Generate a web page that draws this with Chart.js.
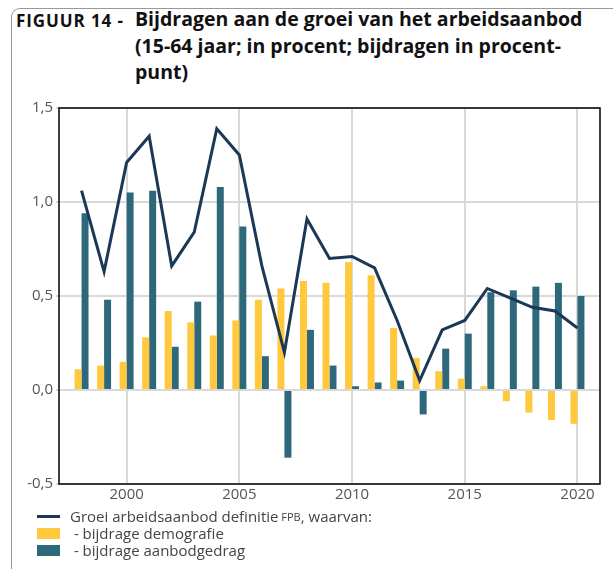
<!DOCTYPE html>
<html>
<head>
<meta charset="utf-8">
<script src="https://cdn.jsdelivr.net/npm/chart.js@4.4.1/dist/chart.umd.min.js"></script>
<style>
  html, body { margin: 0; padding: 0; background: #fff; }
  body { width: 613px; height: 569px; position: relative; overflow: hidden; font-family: "Open Sans", "Noto Sans", sans-serif; }
  #frame { position: absolute; left: 11px; top: 8px; width: 620px; height: 580px; border-top: 1px solid #999; border-left: 1px solid #999; border-top-left-radius: 9px; }
  #fig { position: absolute; left: 16px; top: 9px; font-size: 17px; font-weight: bold; color: #111; letter-spacing: 0.9px; }
  #title { position: absolute; left: 135px; top: 6px; width: 470px; font-size: 19.5px; font-weight: bold; line-height: 26.5px; color: #111; }
  #chartBox { position: absolute; left: 0; top: 96px; width: 613px; height: 414px; }
  #legend { position: absolute; left: 37px; top: 508px; font-size: 15px; color: #444; line-height: 17px; }
  .item { display: flex; align-items: center; height: 17px; }
  .swLine { width: 23px; height: 3px; background: #1c3857; margin-right: 10px; }
  .swBox { width: 23px; height: 11px; margin-right: 10px; }
  .small { font-size: 11px; }
</style>
</head>
<body>
<div id="frame"></div>
<div id="fig">FIGUUR 14 -</div>
<div id="title">Bijdragen aan de groei van het arbeidsaanbod<br>(15-64 jaar; in procent; bijdragen in procent-<br>punt)</div>
<div id="chartBox"><canvas id="chart" width="613" height="414"></canvas></div>
<div id="legend">
  <div class="item"><span class="swLine"></span>Groei arbeidsaanbod definitie <span class="small">&nbsp;FPB</span>, waarvan:</div>
  <div class="item"><span class="swBox" style="background:#ffc83d"></span>&nbsp;- bijdrage demografie</div>
  <div class="item"><span class="swBox" style="background:#2e687b"></span>&nbsp;- bijdrage aanbodgedrag</div>
</div>
<script>
//************************* data **********************************
const years = [1998, 1999, 2000, 2001, 2002, 2003, 2004, 2005, 2006, 2007, 2008, 2009,
  2010, 2011, 2012, 2013, 2014, 2015, 2016, 2017, 2018, 2019, 2020];
// groei arbeidsaanbod (lijn)
const groei = [1.06, 0.63, 1.21, 1.35, 0.66, 0.84, 1.39, 1.25, 0.66, 0.20, 0.91, 0.70,
  0.71, 0.65, 0.37, 0.05, 0.32, 0.37, 0.54, 0.49, 0.44, 0.42, 0.33];
// bijdrage demografie (gele staven)
const demografie = [0.11, 0.13, 0.15, 0.28, 0.42, 0.36, 0.29, 0.37, 0.48, 0.54, 0.58, 0.57,
  0.68, 0.61, 0.33, 0.17, 0.10, 0.06, 0.02, -0.06, -0.12, -0.16, -0.18];
// bijdrage aanbodgedrag (blauwe staven)
const aanbodgedrag = [0.94, 0.48, 1.05, 1.06, 0.23, 0.47, 1.08, 0.87, 0.18, -0.36, 0.32, 0.13,
  0.02, 0.04, 0.05, -0.13, 0.22, 0.30, 0.52, 0.53, 0.55, 0.57, 0.50];
const yTicks = [-0.5, 0, 0.5, 1.0, 1.5];
const xTicks = [2000, 2005, 2010, 2015, 2020];

//************************* helpers **********************************
const toPoints = (values) => years.map((year, i) => ({ x: year, y: values[i] }));

// zwarte rand rond het plotgebied
const frameBox = {
  id: 'frameBox',
  afterDatasetsDraw(chart) {
    const { ctx, chartArea } = chart;
    ctx.save();
    ctx.strokeStyle = '#000';
    ctx.lineWidth = 1.5;
    ctx.strokeRect(chartArea.left, chartArea.top, chartArea.right - chartArea.left, chartArea.bottom - chartArea.top);
    ctx.restore();
  }
};

const tickFont = { family: '"Open Sans", "Noto Sans", sans-serif', size: 15 };

new Chart(document.getElementById('chart'), {
  type: 'bar',
  data: {
    datasets: [
      {
        type: 'line',
        label: 'Groei arbeidsaanbod',
        data: toPoints(groei),
        borderColor: '#1c3857',
        borderWidth: 3,
        pointRadius: 0,
        tension: 0,
        order: 0
      },
      {
        label: 'bijdrage demografie',
        data: toPoints(demografie),
        backgroundColor: '#ffc83d',
        categoryPercentage: 0.62,
        barPercentage: 1,
        order: 1
      },
      {
        label: 'bijdrage aanbodgedrag',
        data: toPoints(aanbodgedrag),
        backgroundColor: '#2e687b',
        categoryPercentage: 0.62,
        barPercentage: 1,
        order: 1
      }
    ]
  },
  options: {
    responsive: false,
    animation: false,
    layout: { padding: { top: 10, right: 13, left: 0, bottom: 0 } },
    plugins: { legend: { display: false }, tooltip: { enabled: false } },
    scales: {
      x: {
        type: 'linear',
        offset: false,
        min: 1997,
        max: 2021,
        afterBuildTicks: (scale) => { scale.ticks = xTicks.map(v => ({ value: v })); },
        afterFit: (scale) => { scale.height = 26; },
        ticks: { color: '#555', font: tickFont, padding: 2, callback: (v) => String(v) },
        grid: { color: '#d9d9d9', lineWidth: 2, tickLength: 0, offset: false },
        border: { display: false }
      },
      y: {
        min: -0.5,
        max: 1.5,
        afterBuildTicks: (scale) => { scale.ticks = yTicks.map(v => ({ value: v })); },
        afterFit: (scale) => { scale.width = 59; },
        ticks: { color: '#555', font: tickFont, padding: 3, callback: (v) => v.toFixed(1).replace('.', ',') },
        grid: { color: '#d9d9d9', lineWidth: 2, tickLength: 3 },
        border: { display: false }
      }
    }
  },
  plugins: [frameBox]
});
</script>
</body>
</html>
